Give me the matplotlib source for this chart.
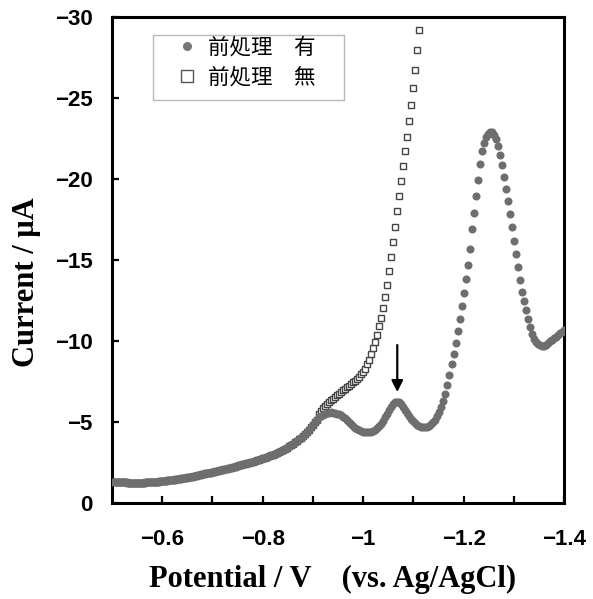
import numpy as np
import matplotlib
matplotlib.use("Agg")
import matplotlib.pyplot as plt
from matplotlib.patches import Rectangle
from matplotlib.lines import Line2D

# Sweep potential (V vs. Ag/AgCl), 4 mV per point
potential = [
    -0.500, -0.504, -0.508, -0.512, -0.516, -0.520, -0.524, -0.528, -0.532, -0.536,
    -0.540, -0.544, -0.548, -0.552, -0.556, -0.560, -0.564, -0.568, -0.572, -0.576,
    -0.580, -0.584, -0.588, -0.592, -0.596, -0.600, -0.604, -0.608, -0.612, -0.616,
    -0.620, -0.624, -0.628, -0.632, -0.636, -0.640, -0.644, -0.648, -0.652, -0.656,
    -0.660, -0.664, -0.668, -0.672, -0.676, -0.680, -0.684, -0.688, -0.692, -0.696,
    -0.700, -0.704, -0.708, -0.712, -0.716, -0.720, -0.724, -0.728, -0.732, -0.736,
    -0.740, -0.744, -0.748, -0.752, -0.756, -0.760, -0.764, -0.768, -0.772, -0.776,
    -0.780, -0.784, -0.788, -0.792, -0.796, -0.800, -0.804, -0.808, -0.812, -0.816,
    -0.820, -0.824, -0.828, -0.832, -0.836, -0.840, -0.844, -0.848, -0.852, -0.856,
    -0.860, -0.864, -0.868, -0.872, -0.876, -0.880, -0.884, -0.888, -0.892, -0.896,
    -0.900, -0.904, -0.908, -0.912, -0.916, -0.920, -0.924, -0.928, -0.932, -0.936,
    -0.940, -0.944, -0.948, -0.952, -0.956, -0.960, -0.964, -0.968, -0.972, -0.976,
    -0.980, -0.984, -0.988, -0.992, -0.996, -1.000, -1.004, -1.008, -1.012, -1.016,
    -1.020, -1.024, -1.028, -1.032, -1.036, -1.040, -1.044, -1.048, -1.052, -1.056,
    -1.060, -1.064, -1.068, -1.072, -1.076, -1.080, -1.084, -1.088, -1.092, -1.096,
    -1.100, -1.104, -1.108, -1.112, -1.116, -1.120, -1.124, -1.128, -1.132, -1.136,
    -1.140, -1.144, -1.148, -1.152, -1.156, -1.160, -1.164, -1.168, -1.172, -1.176,
    -1.180, -1.184, -1.188, -1.192, -1.196, -1.200, -1.204, -1.208, -1.212, -1.216,
    -1.220, -1.224, -1.228, -1.232, -1.236, -1.240, -1.244, -1.248, -1.252, -1.256,
    -1.260, -1.264, -1.268, -1.272, -1.276, -1.280, -1.284, -1.288, -1.292, -1.296,
    -1.300, -1.304, -1.308, -1.312, -1.316, -1.320, -1.324, -1.328, -1.332, -1.336,
    -1.340, -1.344, -1.348, -1.352, -1.356, -1.360, -1.364, -1.368, -1.372, -1.376,
    -1.380, -1.384, -1.388, -1.392, -1.396, -1.400,
]

# Current (uA) where both scans coincide, -0.500 .. -0.908 V
current_common = [
    -1.30, -1.30, -1.29, -1.29, -1.28, -1.28, -1.27, -1.27, -1.26, -1.26,
    -1.26, -1.25, -1.25, -1.25, -1.25, -1.26, -1.26, -1.27, -1.27, -1.28,
    -1.29, -1.30, -1.31, -1.32, -1.33, -1.35, -1.36, -1.38, -1.39, -1.41,
    -1.43, -1.45, -1.46, -1.48, -1.50, -1.52, -1.54, -1.56, -1.58, -1.61,
    -1.63, -1.66, -1.68, -1.71, -1.74, -1.77, -1.80, -1.83, -1.85, -1.88,
    -1.91, -1.94, -1.97, -2.00, -2.03, -2.06, -2.09, -2.12, -2.15, -2.19,
    -2.22, -2.25, -2.28, -2.32, -2.35, -2.38, -2.42, -2.45, -2.49, -2.52,
    -2.56, -2.60, -2.64, -2.68, -2.72, -2.76, -2.80, -2.85, -2.89, -2.94,
    -2.99, -3.04, -3.10, -3.16, -3.22, -3.28, -3.35, -3.42, -3.49, -3.57,
    -3.65, -3.74, -3.83, -3.93, -4.03, -4.14, -4.26, -4.39, -4.53, -4.68,
    -4.84, -5.00, -5.15,
]

# With pretreatment, -0.912 .. -1.400 V
current_with_tail = [
    -5.28, -5.38, -5.46, -5.52, -5.56, -5.58, -5.59,
    -5.58, -5.56, -5.52, -5.47, -5.41, -5.33, -5.24, -5.13, -5.01, -4.89,
    -4.77, -4.66, -4.56, -4.49, -4.44, -4.41, -4.40, -4.40, -4.40, -4.41,
    -4.44, -4.50, -4.60, -4.74, -4.90, -5.08, -5.28, -5.50, -5.72, -5.93,
    -6.10, -6.21, -6.25, -6.21, -6.10, -5.94, -5.76, -5.57, -5.38, -5.20,
    -5.04, -4.91, -4.81, -4.74, -4.70, -4.68, -4.68, -4.71, -4.77, -4.86,
    -4.99, -5.15, -5.35, -5.60, -5.90, -6.28, -6.75, -7.30, -7.90, -8.55,
    -9.22, -9.90, -10.60, -11.35, -12.15, -12.95, -13.80, -14.70, -15.70, -16.90,
    -17.90, -18.95, -19.95, -20.90, -21.70, -22.25, -22.60, -22.80, -22.90, -22.88,
    -22.70, -22.45, -22.05, -21.50, -20.85, -20.15, -19.40, -18.65, -17.85, -17.05,
    -16.20, -15.35, -14.55, -13.75, -13.05, -12.45, -11.90, -11.35, -10.85, -10.45,
    -10.15, -9.95, -9.82, -9.74, -9.70, -9.72, -9.78, -9.87, -9.97, -10.07,
    -10.17, -10.27, -10.37, -10.47, -10.57, -10.67,
]

# Without pretreatment, -0.912 .. -1.112 V
current_without_tail = [
    -5.50, -5.70, -5.85, -6.00, -6.10, -6.25, -6.35,
    -6.45, -6.55, -6.65, -6.75, -6.85, -6.95, -7.05, -7.15, -7.25, -7.35,
    -7.45, -7.55, -7.65, -7.80, -7.95, -8.10, -8.30, -8.55, -8.85, -9.20,
    -9.55, -9.95, -10.40, -10.90, -11.45, -12.05, -12.70, -13.45, -14.30, -15.20,
    -16.10, -17.05, -18.00, -18.95, -19.90, -20.80, -21.70, -22.60, -23.55, -24.55,
    -25.60, -26.75, -27.95, -29.20,
]

current_with = current_common + current_with_tail
current_without = current_common + current_without_tail

series_labels = ["前処理\u3000有", "前処理\u3000無"]
x_ticks = [-0.6, -0.7, -0.8, -0.9, -1.0, -1.1, -1.2, -1.3, -1.4]
x_tick_labels = ["−0.6", "", "−0.8", "", "−1", "", "−1.2", "", "−1.4"]
y_ticks = [0, -5, -10, -15, -20, -25, -30]
y_tick_labels = ["0", "−5", "−10", "−15", "−20", "−25", "−30"]
x_label = "Potential / V    (vs. Ag/AgCl)"
y_label = "Current / μA"

W, H = 593, 599
fig = plt.figure(figsize=(W / 100, H / 100), dpi=100)
ax = fig.add_axes([112 / W, 1 - 503 / H, (564 - 112) / W, (503 - 17) / H])

pot = np.array(potential)
n_without = len(current_without)
ax.plot(pot[:n_without], current_without, ls="none", marker="s", ms=3.8,
        mfc="white", mec="#454545", mew=1.0, zorder=2)
ax.plot(pot, current_with, ls="none", marker="o", ms=5.8,
        mfc="#6e6e6e", mec="#6e6e6e", mew=0, zorder=3)

# arrow marking the small peak of the pretreated scan
cw = np.array(current_with)
seg = (pot < -1.03) & (pot > -1.10)
i_pk = np.where(seg)[0][np.argmin(cw[seg])]
ax.annotate("", xy=(pot[i_pk], cw[i_pk] - 0.6), xytext=(pot[i_pk], cw[i_pk] - 3.5),
            arrowprops=dict(arrowstyle="-|>", color="black", lw=1.6,
                            mutation_scale=17, shrinkA=0, shrinkB=0), zorder=4)

ax.set_xlim(-0.5, -1.4)
ax.set_ylim(0, -30)
ax.set_xticks(x_ticks)
ax.set_xticklabels(x_tick_labels)
ax.set_yticks(y_ticks)
ax.set_yticklabels(y_tick_labels)

tick_font = dict(family="Liberation Sans", weight="bold", size=16)
for lab in ax.get_xticklabels() + ax.get_yticklabels():
    lab.set_fontfamily(tick_font["family"])
    lab.set_fontweight(tick_font["weight"])
    lab.set_fontsize(tick_font["size"])

ax.tick_params(axis="both", direction="in", length=5, width=1.6,
               top=False, right=False)
ax.tick_params(axis="x", pad=19)
ax.tick_params(axis="y", pad=14)
for sp in ax.spines.values():
    sp.set_linewidth(2.2)

label_font = dict(family="Liberation Serif", weight="bold", size=22)
ax.set_xlabel(x_label, **label_font)
ax.set_ylabel(y_label, **label_font)
ax.xaxis.set_label_coords(0.489, -0.128)
ax.yaxis.set_label_coords(-0.158, 0.455)

# legend
handles = [
    Line2D([], [], ls="none", marker="o", ms=6.5, mfc="#777777", mec="#777777", mew=0),
    Line2D([], [], ls="none", marker="s", ms=8, mfc="white", mec="#555555", mew=1.0),
]
ax.add_patch(Rectangle((41 / 452, 1 - 83 / 486), 191 / 452, 65 / 486,
                       transform=ax.transAxes, facecolor="white",
                       edgecolor="#b8b8b8", lw=1.0, zorder=5))
leg = ax.legend(handles, series_labels, loc="upper left",
                bbox_to_anchor=(64 / 452, 1 - 20 / 486), borderaxespad=0,
                borderpad=0, frameon=False, handlelength=1.0,
                handletextpad=0.5, labelspacing=0.35,
                prop=dict(family=["Noto Sans CJK JP", "DejaVu Sans"], size=15.5))
leg.set_zorder(6)

fig.savefig("out.png", dpi=100)
